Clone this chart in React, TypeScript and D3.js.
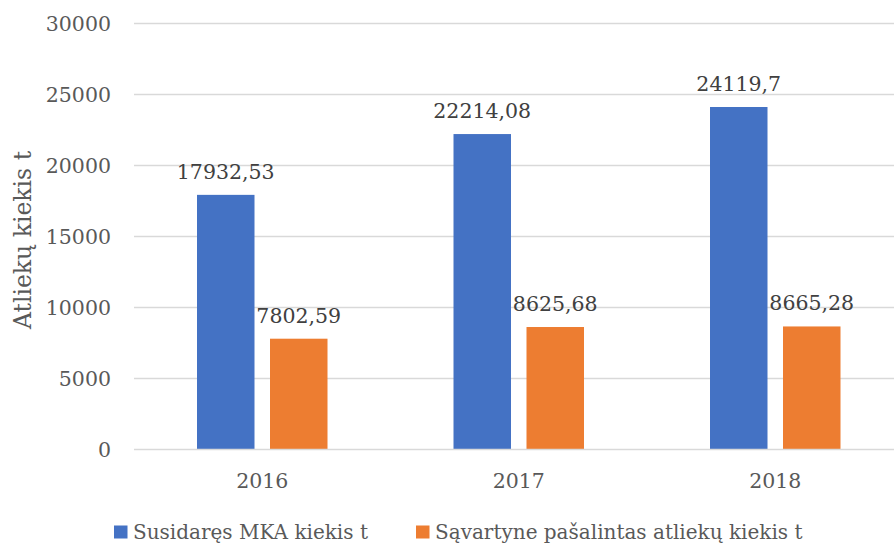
import React, { useEffect, useRef } from 'react';
import * as d3 from 'd3';

const years = ['2016', '2017', '2018'];
const generated = [17932.53, 22214.08, 24119.7];
const landfilled = [7802.59, 8625.68, 8665.28];
const valueLabels1 = ['17932,53', '22214,08', '24119,7'];
const valueLabels2 = ['7802,59', '8625,68', '8665,28'];
const yTicks = [0, 5000, 10000, 15000, 20000, 25000, 30000];
const seriesNames = ['Susidaręs MKA kiekis t', 'Sąvartyne pašalintas atliekų kiekis t'];
const colors = ['#4472C4', '#ED7D31'];

function App() {
  const svgRef = useRef<SVGSVGElement>(null);

  useEffect(() => {
    document.body.style.margin = '0';
    const svg = d3.select(svgRef.current);
    svg.selectAll('*').remove();

    const font = '"DejaVu Serif", serif';
    const textColor = '#595959';
    const left = 134, right = 903.5, top = 23.5, bottom = 449.5;

    const x = d3.scaleBand().domain(years).range([left, right]);
    const y = d3.scaleLinear().domain([0, 30000]).range([bottom, top]);
    const barW = 57.5, gap = 15.5;

    // gridlines
    svg.append('g')
      .selectAll('line')
      .data(yTicks.slice(1))
      .join('line')
      .attr('x1', left).attr('x2', right)
      .attr('y1', d => y(d)).attr('y2', d => y(d))
      .attr('stroke', '#d9d9d9').attr('stroke-width', 1.3);

    // y tick labels
    svg.append('g')
      .selectAll('text')
      .data(yTicks)
      .join('text')
      .attr('x', 111)
      .attr('y', d => y(d) + 7.5)
      .attr('text-anchor', 'end')
      .style('font-family', font).style('font-size', '20.5px')
      .attr('fill', textColor)
      .text(d => String(d));

    const series = [generated, landfilled];
    const labels = [valueLabels1, valueLabels2];
    series.forEach((vals, si) => {
      const offset = si === 0 ? -(gap / 2 + barW) : gap / 2;
      svg.append('g')
        .selectAll('rect')
        .data(vals)
        .join('rect')
        .attr('x', (d, i) => x(years[i])! + x.bandwidth() / 2 + offset)
        .attr('width', barW)
        .attr('y', d => y(d))
        .attr('height', d => bottom - y(d))
        .attr('fill', colors[si]);
      svg.append('g')
        .selectAll('text')
        .data(vals)
        .join('text')
        .attr('x', (d, i) => x(years[i])! + x.bandwidth() / 2 + offset + barW / 2)
        .attr('y', d => y(d) - 16)
        .attr('text-anchor', 'middle')
        .style('font-family', font).style('font-size', '20.5px')
        .attr('fill', '#404040')
        .text((d, i) => labels[si][i]);
    });

    // x axis line
    svg.append('line')
      .attr('x1', left).attr('x2', right)
      .attr('y1', bottom).attr('y2', bottom)
      .attr('stroke', '#d9d9d9').attr('stroke-width', 1.5);

    svg.append('g')
      .selectAll('text')
      .data(years)
      .join('text')
      .attr('x', d => x(d)! + x.bandwidth() / 2)
      .attr('y', 488)
      .attr('text-anchor', 'middle')
      .style('font-family', font).style('font-size', '20.5px')
      .attr('fill', textColor)
      .text(d => d);

    // y axis title
    svg.append('text')
      .attr('transform', 'translate(31,240) rotate(-90)')
      .attr('text-anchor', 'middle')
      .style('font-family', font).style('font-size', '23.5px')
      .attr('fill', textColor)
      .text('Atliekų kiekis t');

    // legend
    const legendX = [114, 416];
    seriesNames.forEach((name, i) => {
      svg.append('rect')
        .attr('x', legendX[i]).attr('y', 525.5)
        .attr('width', 13.5).attr('height', 13)
        .attr('fill', colors[i]);
      svg.append('text')
        .attr('x', legendX[i] + 19).attr('y', 538.5)
        .style('font-family', font).style('font-size', '20px')
        .attr('fill', textColor)
        .text(name);
    });
  }, []);

  return <svg ref={svgRef} width={894} height={544} style={{ display: 'block', background: '#fff' }} />;
}

export default App;
